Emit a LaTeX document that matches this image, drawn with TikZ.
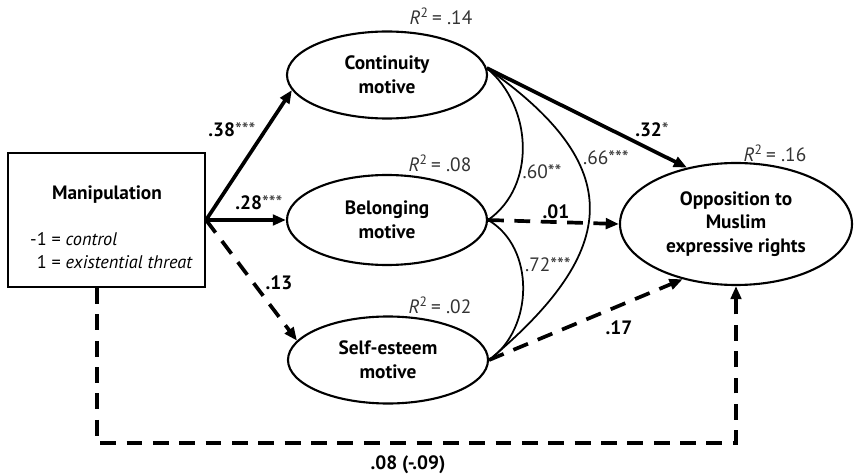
\documentclass[tikz,border=0pt]{standalone}
\usepackage{fontspec}
\setmainfont{PT Sans}
\usepackage{tikz}
\usetikzlibrary{arrows.meta,positioning,shapes,calc}

\begin{document}
\begin{tikzpicture}[
  var/.style={ellipse, draw, line width=1.2pt, minimum width=4.0cm,
              minimum height=1.74cm, inner sep=0pt, align=center,
              font=\fontsize{11}{13.5}\selectfont\bfseries},
  box/.style={rectangle, draw, line width=1.2pt, minimum width=3.94cm,
              minimum height=2.68cm},
  effect/.style={line width=2.1pt, -{Triangle[length=7.5pt,width=6pt]}},
  deffect/.style={effect, dash pattern=on 9pt off 6pt},
  corr/.style={line width=1pt},
  coef/.style={font=\fontsize{11}{13.5}\selectfont\bfseries},
  rsq/.style={font=\fontsize{11}{13.5}\selectfont, text=black!80}
]
  \useasboundingbox (0,0) rectangle (17.08,-9.5);

  % exogenous variable
  \node[box] (manip) at (2.13,-4.40) {};
  \node[coef] (mlab) at (2.14,-3.90) {Manipulation};
  \node[anchor=west, align=left, font=\fontsize{10.4}{13}\selectfont]
    (mcode) at (0.48,-5.02) {-1 = \textit{control}\\\phantom{-}1 = \textit{existential threat}};

  % mediators and outcome
  \node[var] (cont) at (7.74,-1.50) {Continuity\\motive};
  \node[var, minimum height=1.80cm] (bel) at (7.74,-4.40) {Belonging\\motive};
  \node[var] (se) at (7.76,-7.20) {Self-esteem\\motive};
  \node[var, minimum width=4.64cm, minimum height=2.44cm] (opp) at (14.72,-4.48)
    {Opposition to\\Muslim\\expressive rights};

  \node[rsq] (r1) at (8.82,-0.32) {\textit{R}\textsuperscript{2}\,= .14};
  \node[rsq] (r2) at (8.80,-3.26) {\textit{R}\textsuperscript{2}\,= .08};
  \node[rsq] (r3) at (8.80,-6.10) {\textit{R}\textsuperscript{2}\,= .02};
  \node[rsq] (r4) at (15.50,-3.06) {\textit{R}\textsuperscript{2}\,= .16};

  % a paths
  \draw[effect] (manip.east) -- (cont.189);
  \draw[effect] (manip.east) -- (bel.west);
  \draw[deffect] (manip.east) -- (se.168);
  \node[coef] (a1) at (4.64,-2.60) {.38{\mdseries\color{black!80}***}};
  \node[coef] (a2) at (5.18,-4.06) {.28{\mdseries\color{black!80}***}};
  \node[coef] (a3) at (5.58,-5.66) {.13};

  % b paths
  \draw[effect] (cont.4) -- (opp.131);
  \draw[deffect] (bel.east) -- (opp.west);
  \draw[deffect] (se.east) -- (opp.226);
  \node[coef] (b1) at (13.04,-2.60) {.32{\mdseries\color{black!80}*}};
  \node[coef] (b2) at (11.12,-4.24) {.01};
  \node[coef] (b3) at (12.38,-6.56) {.17};

  % residual correlations
  \draw[corr] (cont.4) to[out=-40,in=35] (bel.east);
  \draw[corr] (cont.4) to[out=-35,in=40,looseness=1.5] (se.east);
  \draw[corr] (bel.east) to[out=-30,in=35] (se.east);
  \node[rsq] (c1) at (10.84,-3.44) {.60**};
  \node[rsq] (c2) at (12.12,-3.16) {.66***};
  \node[rsq] (c3) at (10.96,-5.30) {.72***};

  % direct effect
  \coordinate (low) at (1.94,-8.86);
  \draw[deffect] (manip.south -| low) -- (low) -| (opp.south);
  \node[coef] (d1) at (8.16,-9.30) {.08 (-.09)};
\end{tikzpicture}
\end{document}
